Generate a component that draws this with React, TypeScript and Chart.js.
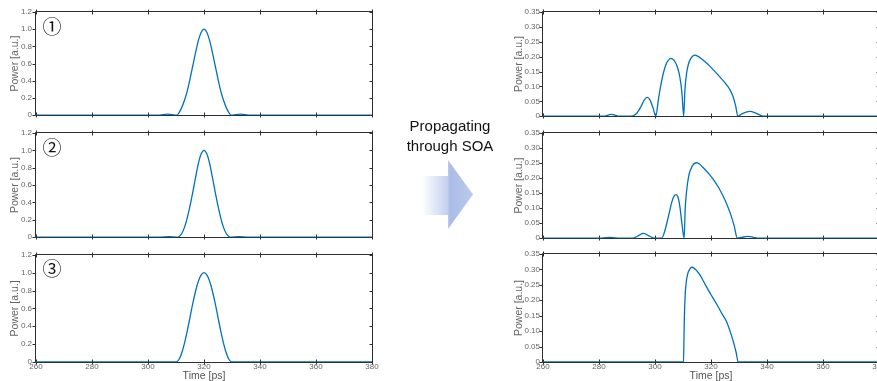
import React, { useEffect, useRef } from 'react';
import { Chart, registerables } from 'chart.js';

Chart.register(...registerables);

// ---------- data ----------
const timeTicks = [260, 280, 300, 320, 340, 360, 380];
const inputPowerTicks = [0, 0.2, 0.4, 0.6, 0.8, 1.0, 1.2];
const outputPowerTicks = [0, 0.05, 0.1, 0.15, 0.2, 0.25, 0.3, 0.35];

// input pulse ①
const t1 = [260, 303.5, 307, 310.4, 311, 312, 313, 314, 315, 316, 317, 318, 319, 320, 321, 322, 323, 324, 325, 326, 327, 328, 329, 329.6, 333, 336.5, 380];
const p1 = [0, 0, 0.012, 0, 0.025, 0.085, 0.17, 0.28, 0.42, 0.575, 0.73, 0.87, 0.965, 1.0, 0.965, 0.87, 0.73, 0.575, 0.42, 0.28, 0.17, 0.085, 0.025, 0, 0.012, 0, 0];
// input pulse ②
const t2 = [260, 304, 307.5, 310.7, 311, 312, 313, 314, 315, 316, 317, 318, 319, 320, 321, 322, 323, 324, 325, 326, 327, 328, 329, 329.3, 332.5, 336, 380];
const p2 = [0, 0, 0.006, 0, 0.005, 0.04, 0.11, 0.22, 0.36, 0.52, 0.69, 0.85, 0.96, 1.0, 0.96, 0.85, 0.69, 0.52, 0.36, 0.22, 0.11, 0.04, 0.005, 0, 0.006, 0, 0];
// input pulse ③
const t3 = [260, 310, 311, 312, 313, 314, 315, 316, 317, 318, 319, 320, 321, 322, 323, 324, 325, 326, 327, 328, 329, 330, 380];
const p3 = [0, 0, 0.025, 0.095, 0.205, 0.345, 0.5, 0.655, 0.795, 0.905, 0.975, 1.0, 0.975, 0.905, 0.795, 0.655, 0.5, 0.345, 0.205, 0.095, 0.025, 0, 0];

// output after SOA ①
const t4 = [260, 281.5, 284.4, 287.5, 291.5, 293.3, 295, 296.2, 297.2, 298.2, 299.3, 300.3, 301.2, 302, 303, 304, 304.8, 305.5, 306.3, 307.2, 308.1, 308.9, 309.6, 310.25, 310.7, 311.3, 312, 312.8, 313.5, 314.2, 315.2, 316.5, 318, 319.5, 321, 322.5, 324, 325.5, 326.7, 327.8, 328.8, 329.6, 331, 332.5, 334.1, 335.6, 337, 338.6, 380];
const p4 = [0, 0, 0.006, 0, 0, 0.008, 0.032, 0.055, 0.063, 0.055, 0.028, 0, 0.055, 0.1, 0.145, 0.175, 0.188, 0.194, 0.192, 0.182, 0.162, 0.13, 0.08, 0, 0.09, 0.145, 0.177, 0.194, 0.202, 0.205, 0.202, 0.194, 0.182, 0.169, 0.154, 0.139, 0.123, 0.106, 0.09, 0.068, 0.035, 0, 0.008, 0.014, 0.016, 0.012, 0.006, 0, 0];
// output after SOA ②
const t5 = [260, 281, 283.8, 286.5, 292, 294, 295.8, 297.8, 300, 302.4, 303.3, 304.2, 305.1, 306, 306.8, 307.5, 308.2, 308.9, 309.6, 310.4, 310.8, 311.3, 312, 312.5, 313.3, 314.1, 314.9, 316, 317.5, 319.2, 320.8, 322.5, 324, 325.6, 327, 328.3, 329.4, 331, 333.2, 335.2, 337, 380];
const p5 = [0, 0, 0.003, 0, 0, 0.008, 0.016, 0.008, 0, 0, 0.018, 0.049, 0.085, 0.12, 0.14, 0.145, 0.137, 0.104, 0.05, 0, 0.1, 0.158, 0.205, 0.223, 0.24, 0.249, 0.251, 0.246, 0.232, 0.215, 0.196, 0.172, 0.146, 0.114, 0.08, 0.04, 0, 0.003, 0.006, 0.003, 0, 0];
// output after SOA ③
const t6 = [260, 310.2, 310.35, 310.5, 310.8, 311.2, 311.7, 312.4, 313.2, 314.5, 316, 318, 320, 322, 324, 325.5, 326.8, 328, 329, 329.7, 380];
const p6 = [0, 0, 0.08, 0.15, 0.22, 0.262, 0.286, 0.301, 0.307, 0.3, 0.283, 0.25, 0.218, 0.188, 0.155, 0.132, 0.1, 0.065, 0.03, 0, 0];

const FONT = "'Liberation Sans', Arial, sans-serif";
const LINE_COLOR = '#0072BD';
const FRAME_COLOR = '#2e2e2e';

const framePlugin = {
  id: 'matlabFrame',
  beforeDatasetsDraw(chart: any) {
    const { ctx, chartArea: a, scales } = chart;
    const xs = scales.x;
    const ys = scales.y;
    const L = Math.round(a.left) - 0.5;
    const R = Math.round(a.right) + 0.5;
    const T = Math.round(a.top) - 0.5;
    const B = Math.round(a.bottom) + 0.5;
    ctx.save();
    ctx.strokeStyle = FRAME_COLOR;
    ctx.lineWidth = 1;
    ctx.beginPath();
    ctx.moveTo(L, T); ctx.lineTo(R, T); ctx.lineTo(R, B); ctx.lineTo(L, B); ctx.closePath();
    for (const tk of xs.ticks) {
      const px = Math.round(xs.getPixelForValue(tk.value)) + 0.5;
      ctx.moveTo(px, T - 2); ctx.lineTo(px, T + 3);
      ctx.moveTo(px, B - 3); ctx.lineTo(px, B + 2);
    }
    for (const tk of ys.ticks) {
      const py = Math.round(ys.getPixelForValue(tk.value)) + 0.5;
      ctx.moveTo(L - 3, py); ctx.lineTo(L, py);
      ctx.moveTo(R - 3, py); ctx.lineTo(R, py);
    }
    ctx.stroke();
    ctx.restore();
  },
};

type PanelProps = {
  left: number; top: number; width: number; height: number;
  padTop: number; padBottom: number; padRight: number;
  yAxisWidth: number; xAxisHeight: number;
  times: number[]; powers: number[];
  yMax: number; yTicks: number[]; yDecimals: number;
  yLabelPad: number; yTitlePad: number; showX: boolean;
};

function Panel(props: PanelProps) {
  const ref = useRef<HTMLCanvasElement | null>(null);
  useEffect(() => {
    if (!ref.current) return;
    const pts = props.times.map((t, i) => ({ x: t, y: props.powers[i] }));
    const chart = new Chart(ref.current, {
      type: 'line',
      data: {
        datasets: [{
          data: pts,
          borderColor: LINE_COLOR,
          borderWidth: 1.3,
          pointRadius: 0,
          fill: false,
          cubicInterpolationMode: 'monotone',
        }],
      },
      options: {
        animation: false,
        responsive: false,
        maintainAspectRatio: false,
        layout: { padding: { top: props.padTop, bottom: props.padBottom, left: 0, right: props.padRight } },
        plugins: { legend: { display: false }, tooltip: { enabled: false }, title: { display: false } },
        scales: {
          x: {
            type: 'linear', min: 260, max: 380,
            afterBuildTicks: (s: any) => { s.ticks = timeTicks.map((v) => ({ value: v })); },
            afterFit: (s: any) => { s.height = props.xAxisHeight; },
            grid: { display: false, drawTicks: false },
            border: { display: false },
            ticks: {
              display: props.showX, padding: 0, autoSkip: false, maxRotation: 0, color: '#666',
              font: { family: FONT, size: 8 },
              callback: (v: any) => String(v),
            },
            title: {
              display: props.showX, text: 'Time [ps]', color: '#555',
              font: { family: FONT, size: 10.5, lineHeight: 1 }, padding: { top: 0, bottom: 0 },
            },
          },
          y: {
            type: 'linear', min: 0, max: props.yMax,
            afterBuildTicks: (s: any) => { s.ticks = props.yTicks.map((v) => ({ value: v })); },
            afterFit: (s: any) => { s.width = props.yAxisWidth; },
            grid: { display: false, drawTicks: false },
            border: { display: false },
            ticks: {
              padding: props.yLabelPad, autoSkip: false, color: '#666',
              font: { family: FONT, size: 8 },
              callback: (v: any) => (Number(v) === 0 ? '0' : Number(v).toFixed(props.yDecimals)),
            },
            title: {
              display: true, text: 'Power [a.u.]', color: '#666',
              font: { family: FONT, size: 10.5, lineHeight: 1.2 }, padding: { top: props.yTitlePad, bottom: 0 },
            },
          },
        },
      },
      plugins: [framePlugin],
    } as any);
    return () => chart.destroy();
  }, []);
  return (
    <canvas
      ref={ref}
      width={props.width}
      height={props.height}
      style={{ position: 'absolute', left: props.left, top: props.top, width: props.width, height: props.height }}
    />
  );
}

const rows = [
  { top: 0, height: 124, padTop: 12, padBottomL: 5, padBottomR: 6, xAxisHeight: 0, showX: false },
  { top: 124, height: 122, padTop: 9, padBottomL: 6, padBottomR: 6, xAxisHeight: 0, showX: false },
  { top: 246, height: 135, padTop: 8, padBottomL: 0, padBottomR: 0, xAxisHeight: 19, showX: true },
];
const inputSeries = [[t1, p1], [t2, p2], [t3, p3]];
const outputSeries = [[t4, p4], [t5, p5], [t6, p6]];
const markers = ['①', '②', '③'];
const markerY = [25, 146, 267];

export default function App() {
  return (
    <div style={{ position: 'absolute', left: 0, top: 0, width: 877, height: 381, overflow: 'hidden', background: '#fff' }}>
      {rows.map((r, i) => (
        <Panel key={'in' + i} left={0} top={r.top} width={380} height={r.height}
          padTop={r.padTop} padBottom={r.padBottomL} padRight={8}
          yAxisWidth={36} xAxisHeight={r.xAxisHeight}
          times={inputSeries[i][0]} powers={inputSeries[i][1]}
          yMax={1.2} yTicks={inputPowerTicks} yDecimals={1}
          yLabelPad={4} yTitlePad={9} showX={r.showX} />
      ))}
      {rows.map((r, i) => (
        <Panel key={'out' + i} left={500} top={r.top} width={390} height={r.height}
          padTop={r.padTop} padBottom={r.padBottomR} padRight={11}
          yAxisWidth={43} xAxisHeight={r.xAxisHeight}
          times={outputSeries[i][0]} powers={outputSeries[i][1]}
          yMax={0.35} yTicks={outputPowerTicks} yDecimals={2}
          yLabelPad={3} yTitlePad={13} showX={r.showX} />
      ))}
      {markers.map((m, i) => (
        <div key={m} style={{
          position: 'absolute', left: 52, top: markerY[i], transform: 'translate(-50%, -50%)',
          fontFamily: "'Noto Sans CJK JP', 'DejaVu Sans', sans-serif", fontSize: 19, lineHeight: 1, color: '#111',
        }}>{m}</div>
      ))}
      <div style={{
        position: 'absolute', left: 390, top: 116, width: 120, textAlign: 'center',
        fontFamily: FONT, fontSize: 15, lineHeight: '20px', color: '#111',
      }}>
        Propagating<br />through SOA
      </div>
      <svg width={877} height={381} style={{ position: 'absolute', left: 0, top: 0, pointerEvents: 'none' }}>
        <defs>
          <linearGradient id="arrowGrad" x1="422" y1="0" x2="473" y2="0" gradientUnits="userSpaceOnUse">
            <stop offset="0" stopColor="#ffffff" />
            <stop offset="0.5" stopColor="#c3d0ee" />
            <stop offset="0.55" stopColor="#a9bce6" />
            <stop offset="1" stopColor="#bccbed" />
          </linearGradient>
        </defs>
        <polygon points="422,176 448,176 448,160 473,194.5 448,229 448,215 422,215" fill="url(#arrowGrad)" />
      </svg>
    </div>
  );
}
